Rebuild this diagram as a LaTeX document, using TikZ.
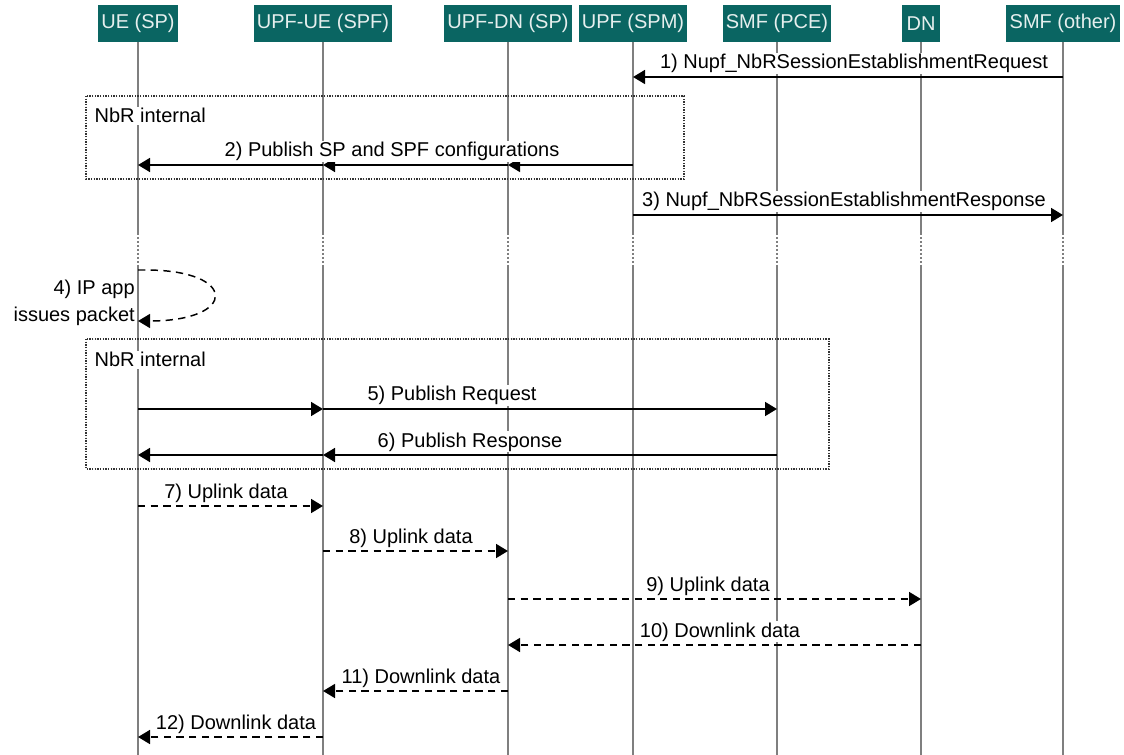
\documentclass[tikz,border=0pt]{standalone}
\usepackage{fontspec}
\setmainfont{Liberation Sans}
\usetikzlibrary{arrows.meta}
\definecolor{hdrfill}{HTML}{0A6562}
\definecolor{hdrtext}{HTML}{E6EFEE}
\definecolor{lifegray}{HTML}{7F7F7F}
\begin{document}
\begin{tikzpicture}[x=0.75pt,y=-0.75pt,
  txt/.style={font=\fontsize{15}{18}\selectfont},
  hdr/.style={txt, fill=hdrfill, text=hdrtext, minimum height=27.75pt, inner xsep=2.5pt, inner ysep=0pt},
  life/.style={draw=lifegray, line width=2pt},
  lifedot/.style={draw=lifegray, line width=2pt, dash pattern=on 1.5pt off 1.5pt},
  lbl/.style={txt, fill=white, inner sep=1pt, anchor=base},
  grp/.style={draw=black!80, line width=0.8pt, dash pattern=on 1pt off 1pt},
  msg/.style={draw=black, line width=1.2pt, -{Triangle[length=9pt,width=10.5pt]}},
  dmsg/.style={msg, dash pattern=on 5.5pt off 4pt},
]
\useasboundingbox (0,0) rectangle (1124,755);

% headers
\node[hdr] (h1) at (138,23.5) {UE (SP)};
\node[hdr] (h2) at (323,23.5) {UPF-UE (SPF)};
\node[hdr] (h3) at (508,23.5) {UPF-DN (SP)};
\node[hdr] (h4) at (633,23.5) {UPF (SPM)};
\node[hdr] (h5) at (777,23.5) {SMF (PCE)};
\node[hdr, minimum width=29pt] (h6) at (921,23.5) {DN};
\node[hdr] (h7) at (1063,23.5) {SMF (other)};

% row coordinates
\coordinate (b1) at (0,233);
\coordinate (b2) at (0,265);
\coordinate (bot) at (0,755);
\coordinate (r1) at (0,77);
\coordinate (r2) at (0,165);
\coordinate (r3) at (0,215);
\coordinate (r4a) at (0,270);
\coordinate (r4b) at (0,321);
\coordinate (r5) at (0,409);
\coordinate (r6) at (0,455);
\coordinate (r7) at (0,506);
\coordinate (r8) at (0,551);
\coordinate (r9) at (0,599);
\coordinate (r10) at (0,645);
\coordinate (r11) at (0,691);
\coordinate (r12) at (0,737);

% lifelines
\foreach \h in {h1,h2,h3,h4,h5,h6,h7}{
  \draw[life] (\h.south) -- (\h |- b1);
  \draw[lifedot] (\h |- b1) -- (\h |- b2);
  \draw[life] (\h |- b2) -- (\h |- bot);
}

% groups
\draw[grp] (86,96) rectangle (684,179);
\node[lbl, anchor=base west] (g1) at (93,123) {NbR internal};
\draw[grp] (86,339) rectangle (829,469);
\node[lbl, anchor=base west] (g2) at (93,367) {NbR internal};

% messages
\draw[msg] (h7 |- r1) -- (h4 |- r1);
\node[lbl] (l1) at (854,69) {1) Nupf\_NbRSessionEstablishmentRequest};

\draw[msg] (h4 |- r2) -- (h3 |- r2);
\draw[msg] (h3 |- r2) -- (h2 |- r2);
\draw[msg] (h2 |- r2) -- (h1 |- r2);
\node[lbl] (l2) at (392,157) {2) Publish SP and SPF configurations};

\draw[msg] (h4 |- r3) -- (h7 |- r3);
\node[lbl] (l3) at (844,207) {3) Nupf\_NbRSessionEstablishmentResponse};

\draw[dmsg, line width=1.1pt] (h1 |- r4a) -- ++(8,0) .. controls (238,270) and (238,321) .. (h1 |- r4b);
\node[txt, anchor=base east, inner sep=0pt] (l4a) at (135,295) {4) IP app};
\node[txt, anchor=base east, inner sep=0pt] (l4b) at (135,322) {issues packet};

\draw[msg] (h1 |- r5) -- (h2 |- r5);
\draw[msg] (h2 |- r5) -- (h5 |- r5);
\node[lbl] (l5) at (452,401) {5) Publish Request};

\draw[msg] (h5 |- r6) -- (h2 |- r6);
\draw[msg] (h2 |- r6) -- (h1 |- r6);
\node[lbl] (l6) at (470,447) {6) Publish Response};

\draw[dmsg] (h1 |- r7) -- (h2 |- r7);
\node[lbl] (l7) at (226,498) {7) Uplink data};
\draw[dmsg] (h2 |- r8) -- (h3 |- r8);
\node[lbl] (l8) at (411,543) {8) Uplink data};
\draw[dmsg] (h3 |- r9) -- (h6 |- r9);
\node[lbl] (l9) at (708,591) {9) Uplink data};
\draw[dmsg] (h6 |- r10) -- (h3 |- r10);
\node[lbl] (l10) at (720,637) {10) Downlink data};
\draw[dmsg] (h3 |- r11) -- (h2 |- r11);
\node[lbl] (l11) at (421,683) {11) Downlink data};
\draw[dmsg] (h2 |- r12) -- (h1 |- r12);
\node[lbl] (l12) at (236,729) {12) Downlink data};
\end{tikzpicture}
\end{document}
